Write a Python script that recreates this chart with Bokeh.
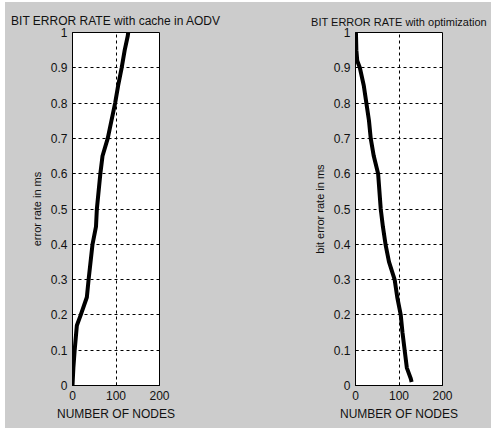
from bokeh.plotting import figure
from bokeh.layouts import row
from bokeh.models import FixedTicker, Range1d
from bokeh.embed import file_html
from bokeh.resources import INLINE

# Left panel: cache in AODV
cache_nodes = [0, 2, 5, 10, 19, 33, 37, 46, 54, 56, 64, 69, 81, 98, 105, 113, 120, 127, 128]
cache_rate = [0.0, 0.05, 0.1, 0.17, 0.2, 0.25, 0.3, 0.4, 0.45, 0.5, 0.6, 0.65, 0.7, 0.8, 0.85, 0.9, 0.95, 0.99, 1.0]

# Right panel: optimization
opt_nodes = [129, 127, 118, 113, 108, 104, 96, 90, 77, 69, 63, 58, 52, 42, 35, 31, 25, 19, 10, 4, 2, 1]
opt_rate = [0.01, 0.02, 0.05, 0.1, 0.15, 0.2, 0.25, 0.3, 0.35, 0.4, 0.45, 0.5, 0.6, 0.65, 0.7, 0.75, 0.8, 0.85, 0.9, 0.92, 0.95, 1.0]

x_ticks = [0, 100, 200]
y_ticks = [0, 0.1, 0.2, 0.3, 0.4, 0.5, 0.6, 0.7, 0.8, 0.9, 1]
y_labels = ["0", "0.1", "0.2", "0.3", "0.4", "0.5", "0.6", "0.7", "0.8", "0.9", "1"]

GREY = "#cccccc"
FONT = "Liberation Sans"


def panel(title, ylabel, xs, ys, width, left, right, title_size):
    p = figure(width=width, height=426, output_backend="svg", toolbar_location=None,
               x_range=Range1d(0, 200), y_range=Range1d(0, 1),
               min_border_left=left, min_border_right=right,
               min_border_top=30, min_border_bottom=43,
               title=title)
    p.background_fill_color = "white"
    p.border_fill_color = GREY
    p.outline_line_color = "black"
    p.outline_line_width = 1
    p.title.align = "center"
    p.title.text_font = FONT
    p.title.text_font_size = title_size
    p.title.text_font_style = "normal"
    p.title.text_color = "#111111"
    for ax in (p.xaxis[0], p.yaxis[0]):
        ax.axis_line_color = "black"
        ax.major_tick_in = 3
        ax.major_tick_out = 0
        ax.minor_tick_line_color = None
        ax.major_label_text_font = FONT
        ax.major_label_text_font_size = "12px"
        ax.major_label_text_color = "#111111"
        ax.axis_label_text_font = FONT
        ax.axis_label_text_font_style = "normal"
        ax.axis_label_text_color = "#111111"
    p.xaxis.ticker = FixedTicker(ticks=x_ticks)
    p.yaxis.ticker = FixedTicker(ticks=y_ticks)
    p.yaxis.major_label_overrides = {t: l for t, l in zip(y_ticks, y_labels)}
    p.xaxis.axis_label = "NUMBER OF NODES"
    p.xaxis.axis_label_text_font_size = "12px"
    p.xaxis.axis_label_standoff = 4
    p.yaxis.axis_label = ylabel
    p.yaxis.axis_label_text_font_size = "11px"
    p.yaxis.axis_label_standoff = 5
    p.xgrid.grid_line_color = "black"
    p.ygrid.grid_line_color = "black"
    p.xgrid.grid_line_dash = "3 3"
    p.ygrid.grid_line_dash = "3 3"
    p.xgrid.grid_line_width = 1
    p.ygrid.grid_line_width = 1
    p.line(xs, ys, line_color="black", line_width=4)
    return p


p1 = panel("BIT ERROR RATE with cache in AODV", "error rate in ms",
           cache_nodes, cache_rate, 240, 67, 86, "12px")
p2 = panel("BIT ERROR RATE with optimization", "bit error rate in ms",
           opt_nodes, opt_rate, 246, 110, 49, "11px")

layout = row(p1, p2, spacing=0, margin=(2, 0, 2, 5),
             styles={"background-color": GREY})
open("out.html", "w").write(file_html(layout, INLINE))
